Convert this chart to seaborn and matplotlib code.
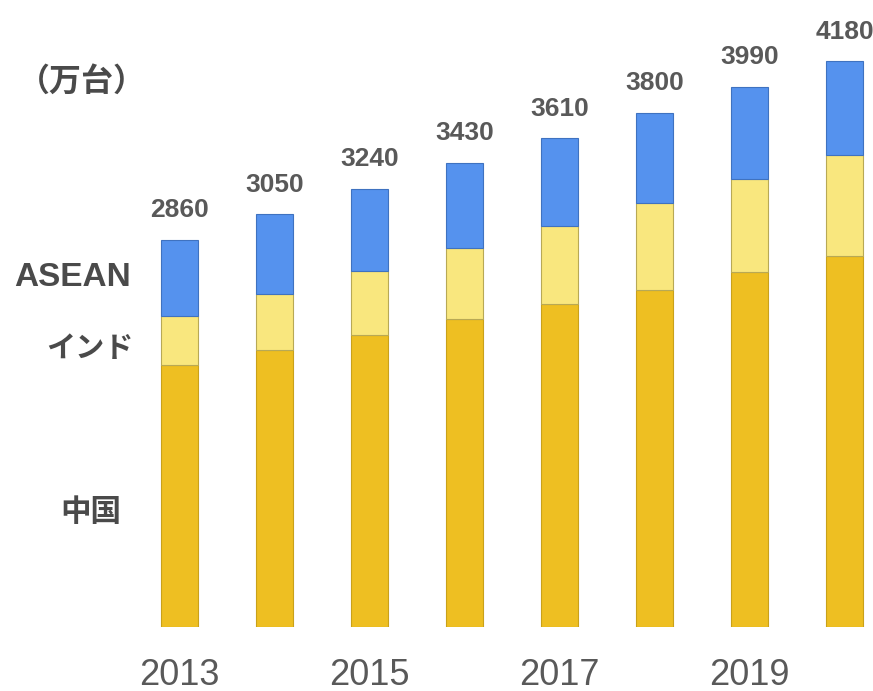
import matplotlib
matplotlib.use("Agg")
import matplotlib.pyplot as plt
import seaborn as sns
import numpy as np
import pandas as pd

years = ["2013", "2014", "2015", "2016", "2017", "2018", "2019", "2020"]
china = [1936, 2045, 2161, 2277, 2384, 2492, 2623, 2739]
india = [362, 414, 473, 525, 576, 643, 687, 746]
asean = [562, 591, 606, 628, 650, 665, 680, 695]
totals = [2860, 3050, 3240, 3430, 3610, 3800, 3990, 4180]
shown_ticks = ["2013", "", "2015", "", "2017", "", "2019", ""]

sns.set_theme(style="white")
plt.rcParams["font.family"] = ["Liberation Sans", "Noto Sans CJK JP", "DejaVu Sans"]

df = pd.DataFrame({"year": years, "china": china, "india": india, "asean": asean})
df["b_india"] = df["china"]
df["b_asean"] = df["china"] + df["india"]

W, H = 873, 691
fig = plt.figure(figsize=(W / 100, H / 100), dpi=100)
ax = fig.add_axes([132 / W, 64 / H, 760 / W, 609 / H])

c_gold = "#EEBF22"
c_yel = "#F9E77E"
c_blue = "#5592EE"

sns.barplot(data=df, x="year", y="china", color=c_gold, width=0.39, ax=ax,
            saturation=1, edgecolor="#C9A11A", linewidth=0.8)
sns.barplot(data=df, x="year", y="india", bottom=df["b_india"], color=c_yel, width=0.39,
            ax=ax, saturation=1, edgecolor="#B8A955", linewidth=0.8)
sns.barplot(data=df, x="year", y="asean", bottom=df["b_asean"], color=c_blue, width=0.39,
            ax=ax, saturation=1, edgecolor="#3F72C0", linewidth=0.8)

ax.set_xlim(-0.5, 7.5)
ax.set_ylim(0, 4500)
for s in ax.spines.values():
    s.set_visible(False)
ax.set_yticks([])
ax.set_xlabel("")
ax.set_ylabel("")
ax.set_xticks(range(len(years)))
ax.set_xticklabels(shown_ticks, fontsize=26, color="#595959")
ax.tick_params(axis="x", length=0, pad=22)

for i, t in enumerate(totals):
    ax.text(i, t + 130, str(t), ha="center", va="bottom", fontsize=19,
            fontweight="bold", color="#595959")

cjk = ["Noto Sans CJK JP", "DejaVu Sans"]
fig.text(18 / W, 1 - 82 / H, "（万台）", ha="left", va="center", fontsize=23,
         fontweight="bold", color="#4a4a4a", family=cjk)
fig.text(131 / W, 1 - 277 / H, "ASEAN", ha="right", va="center", fontsize=24,
         fontweight="bold", color="#4a4a4a")
fig.text(134 / W, 1 - 348 / H, "インド", ha="right", va="center", fontsize=21,
         fontweight="bold", color="#4a4a4a", family=cjk)
fig.text(121 / W, 1 - 512 / H, "中国", ha="right", va="center", fontsize=22,
         fontweight="bold", color="#4a4a4a", family=cjk)

fig.savefig("out.png", dpi=100, facecolor="white")
